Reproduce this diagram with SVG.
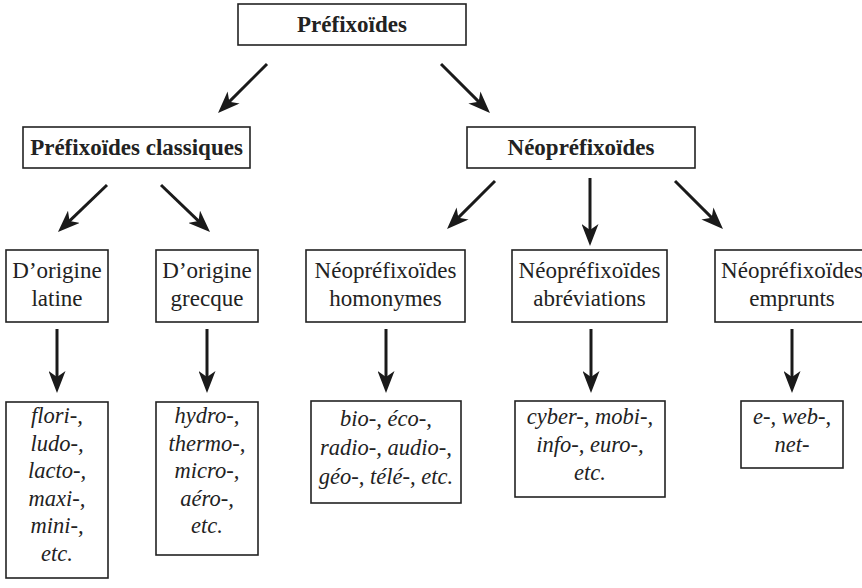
<svg xmlns="http://www.w3.org/2000/svg" width="862" height="588" viewBox="0 0 862 588">
<defs>
<style>
.box{fill:#fff;stroke:#222;stroke-width:1.6}
.t{font-family:"Liberation Serif","Times New Roman",serif;font-size:23px;fill:#222;text-anchor:middle}
.b{font-weight:bold;font-size:23px}
.i{font-style:italic;font-size:22.5px}
.ar{stroke:#1a1a1a;stroke-width:3;fill:none;marker-end:url(#ah)}
</style>
<marker id="ah" viewBox="0 0 22 17" refX="12" refY="8.5" markerWidth="22" markerHeight="17" markerUnits="userSpaceOnUse" orient="auto">
<path d="M0,0 L22,8.5 L0,17 L6,8.5 z" fill="#1a1a1a"/>
</marker>
</defs>
<rect width="862" height="588" fill="#fff"/>
<g id="connectors">
<line class="ar" x1="267" y1="64" x2="225.1" y2="105.9"/>
<line class="ar" x1="441" y1="64" x2="482.9" y2="105.9"/>
<line class="ar" x1="107" y1="185" x2="65.2" y2="225.1"/>
<line class="ar" x1="161" y1="185" x2="202.8" y2="225.1"/>
<line class="ar" x1="495" y1="181" x2="454.1" y2="221.9"/>
<line class="ar" x1="590" y1="178" x2="590" y2="236"/>
<line class="ar" x1="675" y1="181" x2="715.9" y2="221.9"/>
<line class="ar" x1="57" y1="329" x2="57" y2="383"/>
<line class="ar" x1="207" y1="329" x2="207" y2="383"/>
<line class="ar" x1="386" y1="329" x2="386" y2="383"/>
<line class="ar" x1="591" y1="329" x2="591" y2="383"/>
<line class="ar" x1="792" y1="329" x2="792" y2="383"/>
</g>
<g id="n-prefixoides">
<rect class="box" x="238" y="4" width="228" height="41"/>
<text class="t b" x="352" y="32">Préfixoïdes</text>
</g>
<g id="n-classiques">
<rect class="box" x="23" y="127" width="227" height="41"/>
<text class="t b" x="136.5" y="155">Préfixoïdes classiques</text>
</g>
<g id="n-neo">
<rect class="box" x="467" y="127" width="228" height="41"/>
<text class="t b" x="581" y="155">Néopréfixoïdes</text>
</g>
<g id="n-latine">
<rect class="box" x="6" y="250" width="102" height="72"/>
<text class="t" x="57" y="278">D’origine</text>
<text class="t" x="57" y="306">latine</text>
</g>
<g id="n-grecque">
<rect class="box" x="156" y="250" width="102" height="72"/>
<text class="t" x="207" y="278">D’origine</text>
<text class="t" x="207" y="306">grecque</text>
</g>
<g id="n-homonymes">
<rect class="box" x="306" y="250" width="159" height="72"/>
<text class="t" x="385.5" y="278">Néopréfixoïdes</text>
<text class="t" x="385.5" y="306">homonymes</text>
</g>
<g id="n-abreviations">
<rect class="box" x="512" y="250" width="155" height="72"/>
<text class="t" x="589.5" y="278">Néopréfixoïdes</text>
<text class="t" x="589.5" y="306">abréviations</text>
</g>
<g id="n-emprunts">
<rect class="box" x="715" y="250" width="155" height="72"/>
<text class="t" x="792" y="278">Néopréfixoïdes</text>
<text class="t" x="792" y="306">emprunts</text>
</g>
<g id="n-ex-latine">
<rect class="box" x="6" y="402" width="102" height="176"/>
<text class="t i" x="57" y="423">flori-,</text>
<text class="t i" x="57" y="450.5">ludo-,</text>
<text class="t i" x="57" y="478">lacto-,</text>
<text class="t i" x="57" y="505.5">maxi-,</text>
<text class="t i" x="57" y="533">mini-,</text>
<text class="t i" x="57" y="560.5">etc.</text>
</g>
<g id="n-ex-grecque">
<rect class="box" x="156" y="402" width="102" height="153"/>
<text class="t i" x="207" y="423">hydro-,</text>
<text class="t i" x="207" y="450.5">thermo-,</text>
<text class="t i" x="207" y="478">micro-,</text>
<text class="t i" x="207" y="505.5">aéro-,</text>
<text class="t i" x="207" y="533">etc.</text>
</g>
<g id="n-ex-homonymes">
<rect class="box" x="311" y="401" width="150" height="102"/>
<text class="t i" x="386" y="426">bio-, éco-,</text>
<text class="t i" x="386" y="455">radio-, audio-,</text>
<text class="t i" x="386" y="484">géo-, télé-, etc.</text>
</g>
<g id="n-ex-abreviations">
<rect class="box" x="515" y="401" width="150" height="96"/>
<text class="t i" x="590" y="424">cyber-, mobi-,</text>
<text class="t i" x="590" y="452">info-, euro-,</text>
<text class="t i" x="590" y="480">etc.</text>
</g>
<g id="n-ex-emprunts">
<rect class="box" x="741" y="401" width="102" height="67"/>
<text class="t i" x="792" y="424">e-, web-,</text>
<text class="t i" x="792" y="452">net-</text>
</g>
</svg>
